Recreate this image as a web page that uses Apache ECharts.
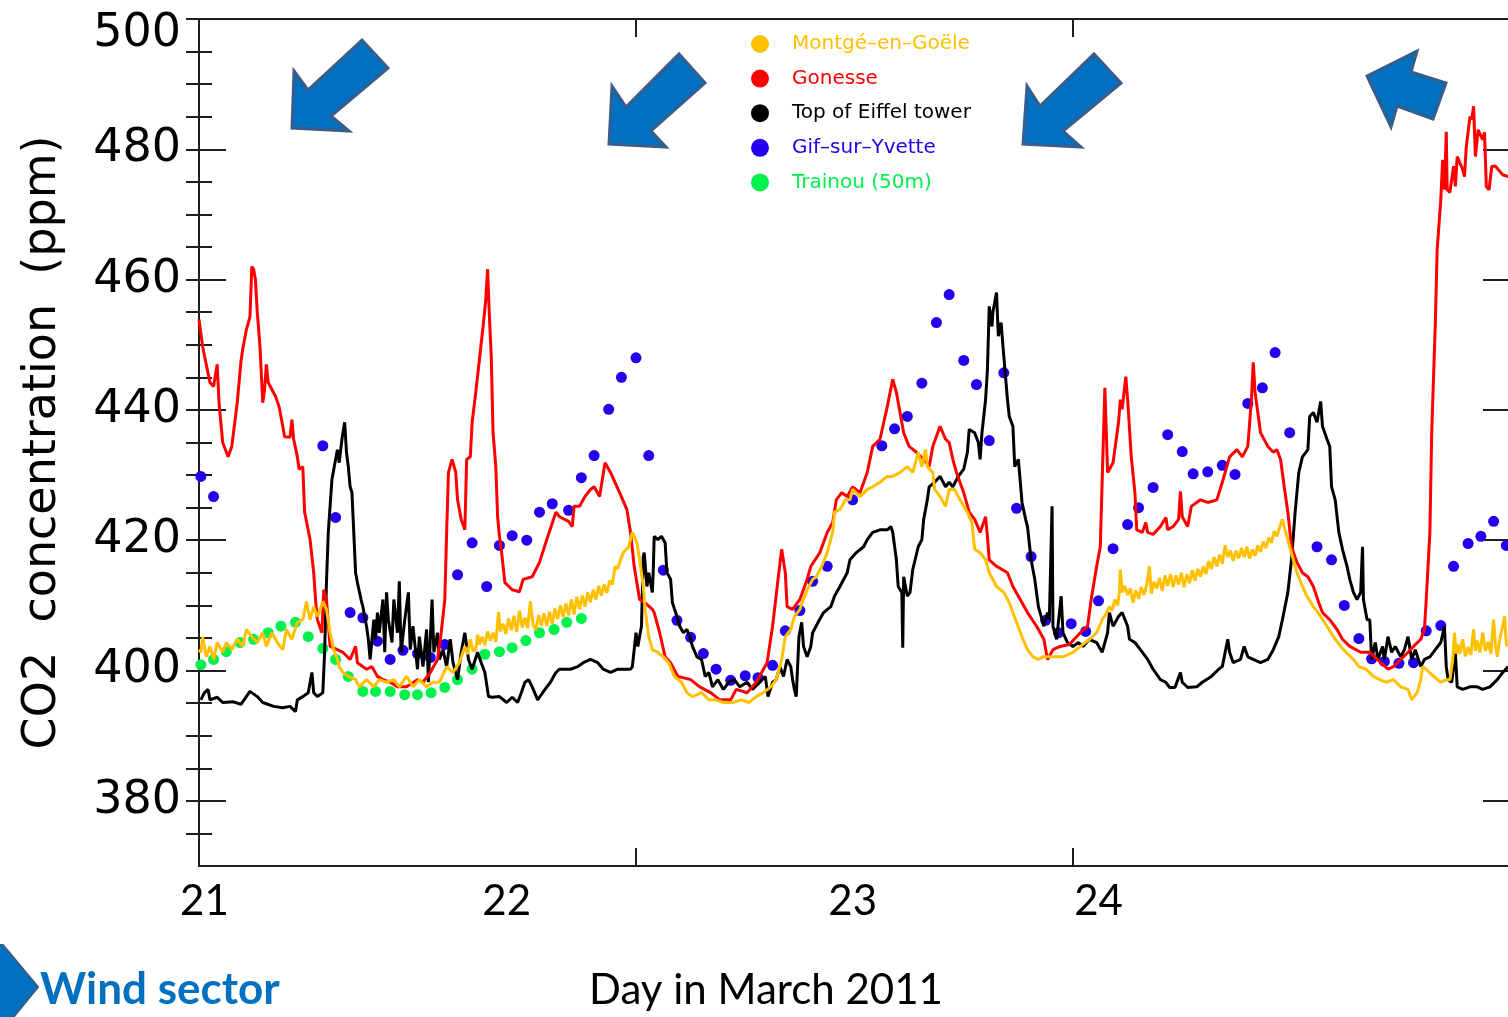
<!DOCTYPE html>
<html>
<head>
<meta charset="utf-8">
<script src="https://cdn.jsdelivr.net/npm/echarts@6/dist/echarts.min.js"></script>
<style>
html,body{margin:0;padding:0;background:#fff;overflow:hidden;}
#chart{width:1508px;height:1017px;}
</style>
</head>
<body>
<div id="chart"></div>
<script>
// CO2 mole fractions (ppm), 21-24 March 2011. x = hours since the start of the record.

const montge = [[0.0,403.2],[0.1,402.8],[0.2,405.2],[0.4,402.1],[0.6,403.7],[0.8,401.7],[1.0,404.3],[1.3,402.8],[1.5,404.3],[1.8,403.2],[2.1,404.8],[2.4,403.7],[2.6,406.3],[2.9,405.2],[3.2,404.3],[3.5,405.8],[3.7,403.7],[4.0,405.8],[4.3,404.3],[4.6,403.2],[4.8,406.3],[5.1,404.8],[5.4,407.4],[5.7,407.8],[5.9,410.6],[6.1,407.8],[6.3,409.8],[6.5,408.3],[6.6,408.9],[6.8,410.6],[7.0,409.4],[7.2,405.8],[7.4,403.2],[7.6,401.7],[7.7,400.6],[7.9,399.7],[8.2,399.1],[8.6,398.6],[8.8,397.5],[9.2,398.6],[9.6,397.5],[9.9,398.6],[10.3,398.2],[10.7,398.6],[11.0,397.5],[11.4,399.1],[11.75,397.5],[12.1,398.6],[12.5,397.5],[12.85,398.2],[13.2,398.2],[13.6,400.6],[13.95,399.7],[14.3,401.2],[14.6,403.7],[14.75,402.5],[14.9,404.8],[15.05,403.0],[15.2,403.2],[15.3,405.5],[15.4,404.0],[15.55,405.2],[15.7,403.9],[15.85,406.0],[16.0,404.6],[16.15,405.8],[16.3,404.4],[16.45,409.0],[16.55,406.0],[16.7,407.2],[16.85,405.6],[17.0,408.0],[17.15,406.2],[17.3,408.4],[17.45,405.9],[17.6,409.2],[17.75,406.6],[17.9,408.1],[18.05,406.5],[18.2,410.6],[18.35,407.0],[18.5,406.2],[18.65,408.5],[18.8,406.9],[18.95,408.8],[19.1,406.8],[19.25,409.0],[19.4,407.2],[19.55,409.5],[19.7,407.9],[19.85,410.0],[20.0,408.2],[20.15,410.3],[20.3,408.5],[20.45,410.9],[20.6,408.6],[20.75,411.3],[20.9,409.4],[21.05,411.5],[21.2,409.8],[21.35,412.0],[21.5,410.5],[21.65,412.4],[21.8,410.9],[21.95,413.0],[22.1,411.5],[22.25,413.2],[22.4,411.9],[22.55,413.8],[22.7,413.2],[22.85,416.0],[23.0,415.6],[23.1,416.6],[23.3,418.1],[23.6,419.0],[23.8,421.2],[24.05,419.6],[24.2,417.0],[24.4,412.9],[24.5,409.4],[24.7,405.2],[24.9,403.2],[25.2,402.8],[25.5,402.1],[25.8,401.2],[26.1,399.1],[26.5,398.2],[26.8,396.6],[27.1,396.0],[27.6,396.6],[28.0,395.5],[28.4,395.5],[28.8,395.1],[29.3,395.1],[29.8,395.5],[30.2,395.1],[30.6,396.0],[31.0,396.6],[31.4,397.5],[31.7,398.6],[32.0,401.7],[32.2,405.2],[32.5,406.3],[32.7,408.3],[33.0,409.4],[33.4,412.4],[33.7,414.0],[33.9,414.4],[34.2,416.0],[34.5,418.1],[34.8,421.2],[34.9,424.3],[35.2,424.7],[35.5,426.2],[35.75,426.2],[35.9,427.8],[36.3,426.7],[36.7,427.8],[37.0,428.2],[37.4,428.9],[37.8,429.8],[38.1,429.8],[38.5,430.4],[38.9,431.3],[39.2,430.4],[39.5,433.5],[39.7,431.3],[39.9,433.9],[40.0,431.3],[40.3,430.4],[40.4,427.8],[40.7,426.7],[41.0,425.2],[41.2,427.8],[41.5,427.8],[41.8,426.2],[42.2,424.3],[42.45,422.7],[42.6,418.6],[42.9,418.1],[43.2,417.0],[43.4,415.0],[43.8,412.9],[44.2,412.0],[44.5,410.4],[44.9,407.4],[45.25,404.8],[45.5,403.2],[45.8,402.1],[46.1,401.7],[46.35,402.1],[46.9,402.1],[47.45,402.1],[48.0,402.8],[48.4,403.7],[48.9,404.8],[49.3,405.8],[49.6,407.8],[49.8,408.6],[50.0,409.8],[50.15,409.2],[50.3,410.9],[50.45,410.0],[50.55,412.0],[50.6,415.5],[50.7,412.0],[50.85,413.0],[51.0,411.6],[51.15,412.6],[51.3,410.4],[51.45,412.3],[51.6,411.0],[51.75,412.8],[51.9,411.6],[52.05,413.2],[52.2,416.0],[52.3,411.8],[52.45,413.6],[52.6,412.6],[52.75,414.2],[52.9,412.2],[53.05,414.6],[53.2,413.0],[53.35,414.8],[53.5,412.8],[53.65,414.6],[53.8,413.2],[53.95,415.0],[54.1,412.8],[54.25,414.8],[54.4,413.4],[54.55,415.4],[54.7,413.8],[54.85,415.6],[55.0,414.4],[55.15,416.0],[55.3,414.8],[55.45,416.8],[55.6,415.6],[55.75,417.4],[55.9,416.0],[56.05,417.8],[56.2,416.4],[56.35,419.2],[56.5,417.4],[56.65,418.4],[56.8,416.8],[56.95,418.4],[57.1,417.2],[57.25,418.8],[57.4,417.4],[57.55,419.0],[57.7,417.2],[57.85,418.6],[58.0,417.6],[58.15,419.2],[58.3,418.2],[58.45,419.8],[58.6,418.8],[58.75,420.4],[58.9,419.6],[59.05,421.4],[59.2,420.6],[59.35,422.0],[59.5,423.2],[59.65,421.6],[59.9,419.0],[60.1,417.0],[60.3,415.0],[60.6,412.9],[60.85,411.4],[61.2,409.8],[61.6,408.3],[61.95,406.8],[62.3,405.2],[62.7,403.7],[63.0,402.8],[63.4,401.7],[63.7,400.6],[64.1,400.2],[64.5,399.1],[64.85,398.6],[65.2,398.2],[65.6,398.6],[66.0,397.5],[66.4,397.1],[66.6,395.5],[66.9,396.6],[67.1,398.6],[67.2,400.6],[67.4,400.2],[67.8,399.1],[68.2,398.2],[68.5,398.6],[68.7,398.6],[68.85,401.5],[68.95,405.8],[69.05,402.6],[69.15,404.0],[69.25,402.6],[69.4,404.8],[69.55,402.2],[69.7,403.6],[69.85,402.4],[70.0,406.3],[70.1,403.0],[70.2,404.6],[70.35,402.8],[70.5,405.8],[70.65,403.0],[70.8,404.4],[70.95,402.6],[71.1,407.8],[71.2,404.0],[71.3,402.1],[71.45,405.0],[71.6,406.8],[71.7,408.3],[71.8,404.0],[71.9,403.7]];

const gonesse = [[0.0,453.9],[0.2,449.7],[0.6,444.2],[0.8,443.6],[1.0,447.0],[1.1,441.1],[1.3,435.0],[1.6,432.8],[1.8,434.4],[2.1,441.1],[2.3,447.3],[2.4,449.3],[2.6,452.3],[2.8,454.3],[2.9,462.0],[3.0,461.6],[3.1,460.0],[3.2,455.0],[3.35,449.7],[3.5,441.1],[3.6,443.1],[3.7,447.0],[3.8,444.2],[4.2,442.1],[4.4,440.5],[4.6,437.5],[4.7,435.9],[5.0,435.8],[5.1,438.5],[5.2,435.5],[5.4,432.8],[5.5,430.9],[5.7,431.3],[5.8,424.3],[6.1,420.1],[6.3,415.0],[6.4,410.9],[6.5,407.8],[6.75,405.8],[6.85,412.4],[7.0,410.9],[7.2,403.7],[7.6,403.2],[7.9,402.8],[8.3,401.7],[8.6,403.7],[8.7,401.2],[9.2,400.2],[9.5,400.6],[9.8,399.1],[10.1,398.6],[10.5,398.2],[10.9,397.5],[11.4,397.5],[12.0,398.6],[12.3,398.2],[12.7,399.7],[13.1,401.7],[13.3,405.8],[13.5,410.9],[13.6,421.2],[13.7,430.4],[13.9,432.4],[14.1,430.4],[14.2,426.2],[14.4,423.2],[14.6,421.6],[14.7,432.4],[14.9,432.8],[15.0,438.1],[15.2,442.7],[15.4,447.7],[15.6,452.8],[15.75,456.9],[15.85,461.6],[15.95,454.3],[16.05,448.2],[16.15,436.5],[16.3,431.3],[16.4,423.6],[16.5,420.6],[16.6,418.6],[16.8,413.5],[17.2,412.4],[17.6,412.1],[17.8,414.0],[18.3,414.4],[18.7,416.6],[19.1,420.1],[19.6,424.3],[19.8,423.6],[20.3,422.9],[20.5,422.1],[20.6,425.2],[20.9,425.2],[21.2,426.7],[21.5,427.8],[21.7,428.2],[22.0,426.7],[22.3,431.9],[22.6,430.4],[23.1,427.3],[23.5,424.7],[23.7,421.2],[23.9,416.0],[24.2,410.9],[24.5,410.4],[24.9,409.4],[25.0,408.9],[25.3,405.8],[25.6,402.1],[25.9,401.2],[26.3,399.1],[27.0,398.6],[27.5,397.5],[28.1,396.6],[28.6,395.5],[29.2,395.5],[29.5,397.1],[30.1,396.6],[30.6,398.2],[31.2,401.2],[31.5,406.8],[31.8,414.0],[32.0,418.6],[32.2,415.0],[32.3,409.8],[32.6,409.4],[33.0,410.9],[33.4,414.0],[33.6,416.0],[34.1,418.1],[34.5,421.2],[34.8,422.7],[35.0,426.2],[35.3,427.3],[35.6,426.7],[35.9,428.2],[36.3,427.3],[36.7,430.4],[37.0,434.4],[37.4,435.5],[37.8,440.5],[38.1,444.7],[38.3,442.7],[38.7,436.5],[39.0,434.4],[39.4,433.5],[39.8,432.4],[40.1,431.3],[40.3,434.4],[40.7,437.5],[41.0,435.5],[41.2,435.0],[41.4,432.4],[41.6,430.4],[42.0,427.3],[42.3,424.3],[42.6,423.2],[42.9,421.2],[43.2,423.6],[43.3,420.6],[43.4,417.0],[43.8,416.0],[44.4,415.0],[44.7,412.9],[45.1,410.9],[45.5,408.9],[46.0,406.8],[46.4,404.8],[46.6,401.7],[46.9,403.2],[47.3,403.7],[47.8,404.0],[48.4,405.8],[48.8,406.8],[49.0,410.9],[49.3,416.0],[49.5,419.0],[49.6,428.9],[49.75,443.4],[49.9,430.4],[50.0,430.9],[50.2,431.9],[50.5,438.1],[50.6,441.6],[50.7,440.1],[50.9,445.1],[51.0,441.6],[51.2,432.8],[51.4,427.3],[51.5,421.6],[51.8,421.2],[52.0,422.7],[52.1,421.2],[52.4,420.9],[52.8,422.1],[53.1,423.5],[53.2,421.6],[53.5,422.1],[53.8,423.2],[53.9,427.5],[54.0,423.6],[54.3,422.1],[54.5,425.2],[55.0,426.2],[55.4,425.8],[55.9,426.2],[56.2,428.9],[56.6,432.8],[57.0,433.9],[57.3,432.8],[57.6,434.4],[57.8,441.6],[57.9,447.3],[58.0,442.7],[58.3,436.5],[58.7,434.4],[59.0,433.5],[59.2,433.9],[59.4,432.4],[59.6,428.2],[59.8,424.3],[60.0,419.0],[60.3,416.6],[60.6,415.0],[60.9,414.4],[61.2,412.9],[61.5,410.4],[61.7,408.9],[62.1,407.8],[62.5,406.3],[62.8,404.8],[63.2,403.7],[63.8,402.8],[64.3,402.8],[64.9,401.2],[65.3,400.2],[65.6,400.6],[66.0,401.7],[66.4,402.8],[66.7,403.7],[67.1,404.8],[67.3,406.3],[67.4,410.9],[67.6,421.2],[67.7,436.5],[67.9,453.4],[68.0,464.6],[68.2,472.3],[68.3,478.4],[68.4,473.8],[68.5,482.7],[68.55,473.8],[68.7,473.4],[68.9,477.4],[69.0,474.3],[69.1,478.9],[69.4,476.9],[69.5,475.8],[69.6,480.4],[69.8,485.0],[69.9,484.6],[70.0,486.6],[70.1,478.9],[70.25,483.0],[70.5,481.5],[70.6,482.6],[70.7,474.3],[70.85,473.8],[71.0,477.4],[71.2,477.4],[71.6,476.1],[71.9,475.8]];

const eiffel = [[0.1,395.5],[0.3,396.6],[0.5,397.1],[0.6,395.5],[1.0,395.9],[1.3,395.1],[1.9,395.2],[2.3,394.8],[2.6,396.0],[2.8,396.8],[3.2,396.0],[3.5,395.1],[4.1,394.5],[4.6,394.3],[5.0,394.5],[5.3,393.7],[5.4,395.5],[5.7,396.0],[6.0,396.6],[6.2,399.7],[6.3,396.6],[6.5,396.0],[6.8,396.6],[6.9,402.8],[7.0,413.5],[7.1,421.2],[7.3,429.3],[7.5,432.4],[7.6,433.9],[7.7,431.9],[7.85,435.5],[8.0,438.1],[8.1,433.5],[8.2,431.3],[8.3,428.2],[8.4,427.3],[8.5,421.2],[8.6,415.0],[8.7,413.5],[8.9,410.9],[9.0,409.8],[9.2,406.8],[9.3,404.8],[9.4,401.7],[9.6,407.8],[9.7,404.8],[9.8,408.9],[9.9,405.8],[10.1,410.9],[10.2,402.8],[10.3,412.0],[10.4,407.8],[10.6,404.3],[10.7,410.9],[10.9,405.8],[11.0,413.7],[11.1,402.8],[11.3,407.8],[11.5,412.0],[11.6,403.2],[11.75,406.8],[12.0,400.2],[12.1,405.2],[12.3,400.6],[12.5,406.3],[12.6,398.2],[12.8,410.9],[12.9,402.8],[13.1,405.8],[13.2,401.7],[13.4,403.2],[13.6,400.6],[13.8,404.8],[13.95,401.2],[14.2,398.6],[14.4,402.8],[14.6,405.8],[14.8,401.7],[15.0,400.2],[15.3,402.8],[15.5,401.2],[15.7,399.7],[15.9,396.0],[16.1,395.9],[16.5,396.0],[16.9,395.1],[17.2,395.9],[17.5,395.1],[17.7,396.6],[17.9,398.2],[18.1,398.6],[18.3,397.5],[18.6,395.5],[18.7,395.9],[19.0,397.1],[19.3,398.2],[19.6,399.7],[19.8,400.2],[20.4,400.2],[20.8,400.6],[21.1,401.2],[21.5,401.7],[21.6,402.0],[21.9,401.2],[22.2,400.2],[22.6,399.7],[23.0,400.2],[23.7,400.2],[23.8,400.6],[24.0,405.8],[24.1,403.7],[24.3,406.8],[24.4,417.5],[24.45,418.1],[24.6,412.9],[24.7,415.0],[24.9,412.0],[24.95,415.5],[25.0,420.6],[25.2,420.1],[25.4,420.6],[25.6,419.6],[25.7,415.0],[25.9,414.0],[26.0,410.4],[26.25,408.3],[26.4,406.8],[26.6,405.8],[26.8,406.3],[27.0,404.8],[27.1,403.7],[27.35,402.1],[27.6,401.7],[27.8,399.1],[28.0,399.7],[28.2,397.5],[28.5,398.6],[28.8,397.1],[29.1,398.2],[29.4,398.6],[29.7,397.5],[30.1,398.2],[30.4,397.1],[30.8,398.2],[31.1,399.1],[31.25,396.0],[31.5,398.2],[31.7,398.6],[31.9,400.6],[32.1,399.1],[32.3,401.7],[32.5,400.6],[32.6,398.6],[32.7,397.1],[32.8,396.0],[32.95,405.2],[33.1,407.4],[33.2,403.7],[33.4,402.1],[33.6,403.7],[33.7,405.8],[34.0,407.4],[34.3,408.9],[34.7,409.8],[34.9,411.4],[35.2,412.9],[35.6,415.0],[35.75,417.0],[36.1,418.1],[36.5,419.0],[36.7,420.1],[37.0,421.2],[37.4,421.6],[37.8,421.6],[38.0,422.1],[38.1,421.2],[38.3,417.0],[38.4,412.9],[38.6,412.0],[38.65,403.5],[38.7,414.4],[38.9,411.4],[39.05,412.0],[39.2,415.5],[39.5,419.0],[39.7,420.1],[39.8,423.2],[40.0,426.2],[40.1,428.2],[40.4,428.9],[40.7,429.8],[41.0,428.2],[41.2,428.9],[41.4,428.2],[41.7,429.8],[42.0,430.9],[42.2,433.5],[42.3,437.0],[42.6,436.5],[42.8,435.0],[42.9,432.4],[43.0,436.5],[43.2,441.6],[43.3,446.2],[43.4,455.9],[43.55,452.8],[43.6,455.0],[43.8,458.0],[43.9,451.3],[44.05,453.4],[44.2,448.2],[44.4,441.6],[44.5,439.0],[44.7,437.5],[44.8,431.3],[45.0,432.4],[45.2,425.8],[45.4,423.2],[45.5,422.1],[45.7,417.0],[45.9,414.0],[46.1,409.8],[46.3,407.8],[46.4,406.8],[46.6,408.9],[46.7,407.8],[46.85,425.2],[46.9,406.8],[47.1,404.8],[47.35,411.4],[47.45,405.8],[47.7,404.3],[48.0,403.7],[48.3,404.3],[48.55,403.7],[48.9,404.8],[49.3,404.3],[49.6,402.8],[49.9,405.8],[50.0,408.9],[50.2,406.8],[50.5,408.3],[50.7,408.9],[51.0,406.8],[51.1,404.8],[51.4,404.3],[51.7,403.2],[52.1,401.7],[52.4,400.2],[52.8,398.6],[53.1,398.2],[53.3,397.4],[53.6,397.4],[53.9,399.7],[54.0,398.2],[54.3,397.4],[54.8,397.5],[55.1,398.2],[55.6,399.1],[56.0,400.2],[56.2,400.6],[56.5,404.8],[56.6,402.8],[56.8,401.2],[57.2,401.7],[57.4,403.7],[57.6,402.1],[57.9,401.7],[58.3,401.2],[58.7,401.7],[59.0,403.2],[59.3,405.2],[59.5,407.8],[59.8,412.0],[60.0,417.0],[60.2,424.3],[60.4,430.4],[60.6,432.8],[60.9,433.9],[61.0,439.0],[61.2,439.6],[61.4,438.1],[61.6,441.3],[61.7,437.5],[61.95,435.5],[62.1,434.4],[62.2,428.2],[62.4,426.2],[62.6,421.2],[62.8,418.6],[63.05,416.0],[63.2,414.0],[63.4,412.0],[63.6,410.9],[63.8,412.0],[63.9,419.0],[63.95,410.9],[64.15,407.8],[64.3,407.8],[64.4,401.7],[64.6,404.3],[64.75,401.7],[65.0,403.7],[65.1,401.7],[65.3,405.2],[65.5,402.8],[65.7,403.7],[66.0,402.1],[66.2,403.2],[66.4,405.2],[66.6,401.7],[66.8,403.2],[67.1,400.6],[67.3,401.7],[67.6,402.1],[67.9,403.2],[68.2,404.3],[68.4,406.8],[68.5,400.6],[68.6,398.6],[68.8,398.2],[69.0,402.8],[69.1,397.5],[69.4,397.1],[69.8,397.5],[70.2,397.5],[70.5,397.1],[70.9,397.5],[71.3,398.6],[71.6,399.7],[71.9,400.6]];

const gif = [[0.1,429.8],[0.8,426.7],[6.8,434.5],[7.5,423.5],[8.3,408.9],[9.0,408.1],[9.8,404.5],[10.5,401.7],[11.2,403.1],[12.0,402.6],[12.7,402.0],[13.5,404.0],[14.2,414.7],[15.0,419.6],[15.8,412.9],[16.5,419.2],[17.2,420.7],[18.0,420.0],[18.7,424.3],[19.4,425.6],[20.3,424.6],[21.0,429.6],[21.7,433.0],[22.5,440.1],[23.2,445.0],[24.0,448.0],[24.7,433.0],[25.5,415.4],[26.25,407.7],[27.0,405.1],[27.7,402.6],[28.4,400.2],[29.2,398.5],[30.0,399.2],[30.7,398.9],[31.5,400.8],[32.2,406.1],[33.0,409.2],[33.7,413.7],[34.5,416.0],[35.9,426.2],[37.5,434.5],[38.2,437.1],[38.9,439.0],[39.7,444.1],[40.5,453.4],[41.2,457.7],[42.0,447.6],[42.7,443.9],[43.4,435.3],[44.2,445.7],[44.9,424.9],[45.7,417.5],[46.5,407.7],[47.2,405.8],[47.9,407.2],[48.7,406.0],[49.4,410.7],[50.2,418.7],[51.0,422.4],[51.6,425.0],[52.4,428.1],[53.2,436.2],[54.0,433.6],[54.6,430.2],[55.4,430.5],[56.2,431.5],[56.9,430.1],[57.6,441.0],[58.4,443.4],[59.1,448.8],[59.9,436.5],[61.4,419.0],[62.2,417.0],[62.9,410.0],[63.7,404.9],[64.4,401.8],[65.1,401.4],[65.9,401.1],[66.7,401.2],[67.4,406.1],[68.2,406.9],[68.9,416.0],[69.7,419.5],[70.4,420.6],[71.1,422.9],[71.8,419.2]];

const trainou = [[0.1,400.9],[0.8,401.7],[1.5,402.9],[2.25,404.3],[3.0,404.8],[3.8,405.8],[4.5,406.8],[5.3,407.4],[6.0,405.2],[6.8,403.4],[7.5,401.7],[8.2,399.1],[9.0,396.8],[9.7,396.8],[10.5,396.8],[11.3,396.3],[12.0,396.3],[12.75,396.6],[13.5,397.4],[14.2,398.6],[15.0,400.2],[15.7,402.5],[16.5,402.9],[17.2,403.5],[17.95,404.6],[18.7,405.8],[19.5,406.3],[20.2,407.4],[21.0,408.0]];

// Axis ticks and labels
const yMajorTicks = [380, 400, 420, 440, 460, 480, 500];
const yMinorTicks = [375, 380, 385, 390, 395, 400, 405, 410, 415, 420, 425, 430, 435, 440, 445, 450, 455, 460, 465, 470, 475, 480, 485, 490, 495, 500];
const dayLabels = ['21', '22', '23', '24'];
const dayLabelHours = [0.3, 16.9, 35.9, 49.4];

const stationNames = ['Montgé–en–Goële', 'Gonesse', 'Top of Eiffel tower', 'Gif–sur–Yvette', 'Trainou (50m)'];
const stationColors = ['#ffc000', '#ff0000', '#000000', '#2200ee', '#00f04c'];

const frameColor = '#1e1e1e';
const frameLine = { show: true, lineStyle: { color: frameColor, width: 2 } };
const tickLine = { color: frameColor, width: 2 };
const axisFont = 'DejaVu Sans';

function boxAxisX(position) {
  return {
    type: 'value', position: position, min: 0, max: 72, interval: 24,
    axisLine: frameLine,
    axisTick: { show: true, inside: true, length: 18, lineStyle: tickLine },
    axisLabel: { show: false },
    splitLine: { show: false }
  };
}

function minorAxisY(position, withLine) {
  return {
    type: 'value', position: position, min: 370, max: 500,
    axisLine: withLine ? frameLine : { show: false },
    axisTick: { show: true, inside: true, length: 13, customValues: yMinorTicks, lineStyle: tickLine },
    axisLabel: { show: false },
    splitLine: { show: false }
  };
}

function majorAxisY(position, withLabels) {
  return {
    type: 'value', position: position, min: 370, max: 500,
    axisLine: { show: false },
    axisTick: { show: true, inside: true, length: 27, customValues: yMajorTicks, lineStyle: tickLine },
    axisLabel: withLabels ? {
      show: true, customValues: yMajorTicks, margin: 18,
      fontSize: 46, fontFamily: axisFont, color: '#000',
      formatter: function (v) { return v === 500 ? '{top|500}' : String(v); },
      rich: { top: { fontSize: 46, fontFamily: axisFont, color: '#000', padding: [31, 0, 0, 0] } }
    } : { show: false },
    splitLine: { show: false }
  };
}

const yLeftMinor = minorAxisY('left', true);
yLeftMinor.name = 'CO2  concentration  (ppm)';
yLeftMinor.nameLocation = 'middle';
yLeftMinor.nameRotate = 90;
yLeftMinor.nameGap = 133;
yLeftMinor.nameTextStyle = { fontSize: 46, fontFamily: axisFont, color: '#000' };

// Wind-direction arrows drawn above the panel
const windArrows = [
  [[294,71],[308,90],[362,40],[388,68],[331,116],[349,131],[292,128]],
  [[612,86],[626,107],[679,54],[705,83],[651,131],[666,147],[609,144]],
  [[1027,86],[1040,106],[1094,54],[1121,83],[1063,131],[1081,147],[1023,144]],
  [[1367,76],[1417,51],[1411,72],[1446,83],[1433,119],[1397,106],[1391,127]]
];
const arrowFill = '#0070c0';
const arrowStroke = '#385d8a';

const graphics = windArrows.map(function (pts) {
  return { type: 'polygon', shape: { points: pts }, style: { fill: arrowFill, stroke: arrowStroke, lineWidth: 3 }, z: 10 };
});
graphics.push({ type: 'polygon', shape: { points: [[-10,945],[3,945],[38,987],[3,1030],[-10,1030]] }, style: { fill: arrowFill, stroke: arrowStroke, lineWidth: 2 }, z: 10 });
graphics.push({ type: 'text', x: 40, y: 990, style: { text: 'Wind sector', fill: '#0070c0', fontSize: 44, fontWeight: 'bold', fontFamily: 'Lato', align: 'left', verticalAlign: 'middle' }, z: 10 });
graphics.push({ type: 'text', x: 766, y: 990, style: { text: 'Day in March 2011', fill: '#000', fontSize: 42, fontFamily: 'Lato', align: 'center', verticalAlign: 'middle' }, z: 10 });

const chart = echarts.init(document.getElementById('chart'), null, { renderer: 'canvas' });
chart.setOption({
  animation: false,
  backgroundColor: '#ffffff',
  grid: { left: 199, top: 19, width: 1311, height: 847, containLabel: false, outerBoundsMode: 'none' },
  xAxis: [
    boxAxisX('bottom'),
    boxAxisX('top'),
    {
      type: 'value', position: 'bottom', min: 0, max: 72,
      axisLine: { show: false }, axisTick: { show: false }, splitLine: { show: false },
      axisLabel: {
        show: true, customValues: dayLabelHours, margin: 14,
        fontSize: 42, fontFamily: 'Lato', color: '#000',
        formatter: function (v) {
          let best = 0;
          dayLabelHours.forEach(function (h, i) { if (Math.abs(h - v) < Math.abs(dayLabelHours[best] - v)) best = i; });
          return dayLabels[best];
        }
      }
    }
  ],
  yAxis: [
    yLeftMinor,
    majorAxisY('left', true),
    minorAxisY('right', true),
    majorAxisY('right', false)
  ],
  legend: {
    orient: 'vertical', left: 751, top: 34, padding: 0,
    itemWidth: 18, itemHeight: 18, itemGap: 14.6,
    icon: 'circle', selectedMode: false,
    textStyle: { fontSize: 20, fontFamily: axisFont, lineHeight: 18, padding: [0, 0, 0, 18] },
    data: stationNames.map(function (n, i) { return { name: n, textStyle: { color: stationColors[i] } }; })
  },
  graphic: graphics,
  series: [
    { name: stationNames[4], type: 'scatter', data: trainou, symbol: 'circle', symbolSize: 11,
      itemStyle: { color: stationColors[4], opacity: 1 } },
    { name: stationNames[2], type: 'line', data: eiffel, symbol: 'none', showSymbol: false,
      lineStyle: { color: stationColors[2], width: 3 }, itemStyle: { color: stationColors[2] } },
    { name: stationNames[1], type: 'line', data: gonesse, symbol: 'none', showSymbol: false,
      lineStyle: { color: stationColors[1], width: 3 }, itemStyle: { color: stationColors[1] } },
    { name: stationNames[0], type: 'line', data: montge, symbol: 'none', showSymbol: false,
      lineStyle: { color: stationColors[0], width: 3 }, itemStyle: { color: stationColors[0] } },
    { name: stationNames[3], type: 'scatter', data: gif, symbol: 'circle', symbolSize: 11,
      itemStyle: { color: stationColors[3], opacity: 1 } }
  ]
});
</script>
</body>
</html>
